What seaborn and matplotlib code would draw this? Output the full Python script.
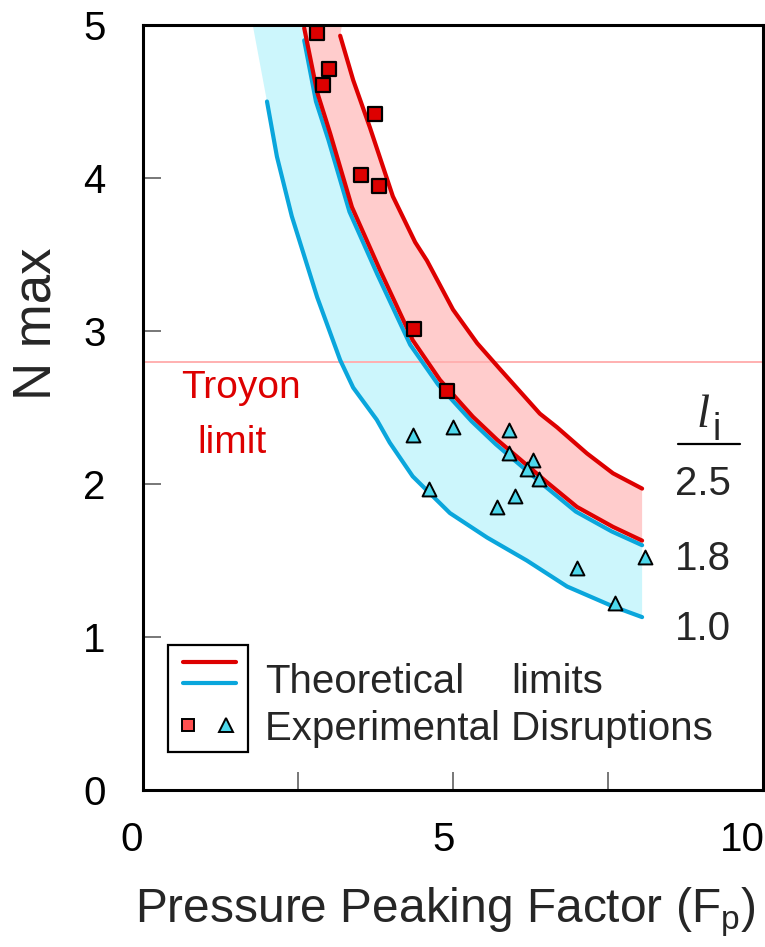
import numpy as np
import pandas as pd
import matplotlib
matplotlib.use("Agg")
import matplotlib.pyplot as plt
import matplotlib.transforms as mtransforms
from matplotlib.lines import Line2D
from matplotlib.patches import Rectangle
import seaborn as sns

# ---------------- data ----------------
# theoretical limit curves, labelled by internal inductance l_i
li_labels = ["2.5", "1.8", "1.0"]

red_upper_x = [3.18, 3.39, 3.66, 4.03, 4.39, 4.58, 5.00, 5.39, 5.76, 6.40, 6.68, 7.16, 7.58, 8.05]
red_upper_y = [4.93, 4.64, 4.33, 3.88, 3.58, 3.46, 3.14, 2.92, 2.75, 2.46, 2.37, 2.20, 2.07, 1.97]

red_mid_x = [2.60, 2.81, 3.02, 3.37, 3.82, 4.35, 4.79, 5.32, 5.71, 6.52, 7.00, 7.58, 8.05]
red_mid_y = [4.98, 4.56, 4.29, 3.81, 3.40, 2.94, 2.68, 2.44, 2.29, 2.01, 1.85, 1.72, 1.63]

blue_mid_x = [2.60, 2.79, 2.99, 3.33, 3.78, 4.31, 4.76, 5.30, 5.69, 6.50, 6.98, 7.56, 8.05]
blue_mid_y = [4.90, 4.50, 4.25, 3.78, 3.37, 2.91, 2.65, 2.41, 2.26, 1.98, 1.82, 1.69, 1.60]

blue_low_x = [2.00, 2.16, 2.40, 2.81, 3.18, 3.39, 3.77, 3.98, 4.35, 4.95, 5.55, 6.19, 6.84, 7.58, 8.05]
blue_low_y = [4.50, 4.14, 3.75, 3.22, 2.81, 2.63, 2.42, 2.27, 2.05, 1.81, 1.65, 1.50, 1.33, 1.20, 1.13]

# shaded bands reach the top of the frame beyond the drawn curves
blue_band_top_x = [1.77, 2.58]   # left / right edge of blue band at N max = 5
red_band_top_x = [2.58, 3.21]    # left / right edge of red band at N max = 5
band_top_y = 5.0

# experimental disruptions
exp_red_x = [2.81, 3.00, 2.90, 3.74, 3.52, 3.81, 4.37, 4.90]
exp_red_y = [4.95, 4.71, 4.61, 4.42, 4.02, 3.95, 3.01, 2.61]

exp_blue_x = [4.35, 5.00, 5.90, 4.61, 5.90, 6.29, 6.19, 6.39, 6.00, 5.71, 7.00, 8.10, 7.61]
exp_blue_y = [2.32, 2.37, 2.35, 1.97, 2.20, 2.16, 2.10, 2.03, 1.92, 1.85, 1.45, 1.52, 1.22]

troyon_limit = 2.80

x_ticklabels = ["0", "5", "10"]
x_tick_vals = [0, 5, 10]
x_minor = [2.5, 7.5]
y_tick_vals = [0, 1, 2, 3, 4, 5]

# ---------------- style ----------------
sns.set_style("white")
plt.rcParams["font.family"] = ["Liberation Sans", "DejaVu Sans"]

RED = "#dd0000"
BLUE = "#0aa6dc"
RED_FILL = "#ffcccc"
BLUE_FILL = "#ccf6fc"
TRI_FACE = "#4dd8ec"

fig = plt.figure(figsize=(7.65, 9.47), dpi=100)
ax = fig.add_axes([143 / 765, 157 / 947, 620 / 765, 765 / 947])

# ---------------- bands ----------------
bx = [blue_band_top_x[0]] + blue_low_x + blue_mid_x[::-1] + [blue_band_top_x[1]]
by = [band_top_y] + blue_low_y + blue_mid_y[::-1] + [band_top_y]
ax.fill(bx, by, color=BLUE_FILL, lw=0, zorder=1)

rx = [red_band_top_x[0]] + red_mid_x + red_upper_x[::-1] + [red_band_top_x[1]]
ry = [band_top_y] + red_mid_y + red_upper_y[::-1] + [band_top_y]
ax.fill(rx, ry, color=RED_FILL, lw=0, zorder=1)

# Troyon limit
ax.axhline(troyon_limit, color="#ffb0b0", lw=1.4, zorder=1.5)

# ---------------- curves ----------------
curves = [
    (blue_low_x, blue_low_y, BLUE),
    (blue_mid_x, blue_mid_y, BLUE),
    (red_mid_x, red_mid_y, RED),
    (red_upper_x, red_upper_y, RED),
]
for cx, cy, col in curves:
    df = pd.DataFrame({"x": cx, "y": cy})
    sns.lineplot(data=df, x="x", y="y", sort=False, color=col, lw=3.0,
                 ax=ax, zorder=3, estimator=None)

# ---------------- experimental points ----------------
sns.scatterplot(x=exp_red_x, y=exp_red_y, marker="s", s=90, color=RED,
                edgecolor="black", linewidth=1.6, ax=ax, zorder=5)
sns.scatterplot(x=exp_blue_x, y=exp_blue_y, marker="^", s=100, color=TRI_FACE,
                edgecolor="black", linewidth=1.4, ax=ax, zorder=5)

# ---------------- axes ----------------
ax.set_xlim(0, 10)
ax.set_ylim(0, 5)
ax.set_xticks(x_tick_vals)
ax.set_xticklabels(x_ticklabels)
ax.set_yticks(y_tick_vals)
ax.set_yticklabels([str(v) for v in y_tick_vals])
ax.set_xticks(x_minor, minor=True)
ax.tick_params(axis="both", which="both", bottom=True, left=True,
               top=False, right=False)
ax.tick_params(axis="both", which="both", direction="in", length=13,
               width=1.4, color="#777777", labelsize=29, labelcolor="black")
ax.tick_params(axis="x", which="major", pad=22)
ax.tick_params(axis="y", which="major", pad=27)
for sp in ax.spines.values():
    sp.set_visible(True)
    sp.set_color("black")
    sp.set_linewidth(2.2)
    sp.set_zorder(4)

for lab, dx in zip(ax.get_xticklabels(), [-11, -9, -21]):
    lab.set_transform(lab.get_transform() +
                      mtransforms.ScaledTranslation(dx / 100, 0, fig.dpi_scale_trans))

ax.set_xlabel("Pressure Peaking Factor (F$_\\mathregular{p}$)", fontsize=34.5)
ax.set_ylabel("N max", fontsize=38)
ax.xaxis.set_label_coords(0.487, -0.125)
ax.yaxis.set_label_coords(-0.132, 0.61)

# ---------------- annotations ----------------
ax.text(0.158, 0.512, "Troyon", color=RED, fontsize=28, ha="center",
        va="baseline", transform=ax.transAxes)
ax.text(0.144, 0.44, "limit", color=RED, fontsize=28, ha="center",
        va="baseline", transform=ax.transAxes)

# l_i header and values
ax.text(0.903, 0.4745, "l", fontsize=34, family="Liberation Serif",
        style="italic", ha="center", va="baseline", transform=ax.transAxes)
ax.text(0.918, 0.4575, "i", fontsize=27, ha="left", va="baseline",
        transform=ax.transAxes)
ax.add_line(Line2D([0.863, 0.963], [0.452, 0.452], color="black", lw=1.6,
                   transform=ax.transAxes))
for lab, yb in zip(li_labels, [0.386, 0.288, 0.196]):
    ax.text(0.903, yb, lab, fontsize=29, ha="center", va="baseline",
            transform=ax.transAxes)

# ---------------- legend (drawn by hand) ----------------
ax.add_patch(Rectangle((0.040, 0.0497), 0.129, 0.1398, fill=False,
                       edgecolor="black", lw=1.6, transform=ax.transAxes, zorder=6))
ax.add_line(Line2D([0.0645, 0.150], [0.167, 0.167], color=RED, lw=3.0,
                   transform=ax.transAxes, zorder=6))
ax.add_line(Line2D([0.0645, 0.150], [0.140, 0.140], color=BLUE, lw=3.0,
                   transform=ax.transAxes, zorder=6))
ax.add_line(Line2D([0.0726], [0.0856], marker="s", ms=8.5, mfc="#ff5050",
                   mec="black", mew=1.4, ls="none", transform=ax.transAxes, zorder=6))
ax.add_line(Line2D([0.134], [0.0856], marker="^", ms=10, mfc=TRI_FACE,
                   mec="black", mew=1.4, ls="none", transform=ax.transAxes, zorder=6))
ax.text(0.197, 0.127, "Theoretical", fontsize=29, ha="left", va="baseline",
        transform=ax.transAxes)
ax.text(0.594, 0.127, "limits", fontsize=29, ha="left", va="baseline",
        transform=ax.transAxes)
ax.text(0.197, 0.065, "Experimental Disruptions", fontsize=29, ha="left",
        va="baseline", transform=ax.transAxes)

fig.savefig("out.png", dpi=100)
